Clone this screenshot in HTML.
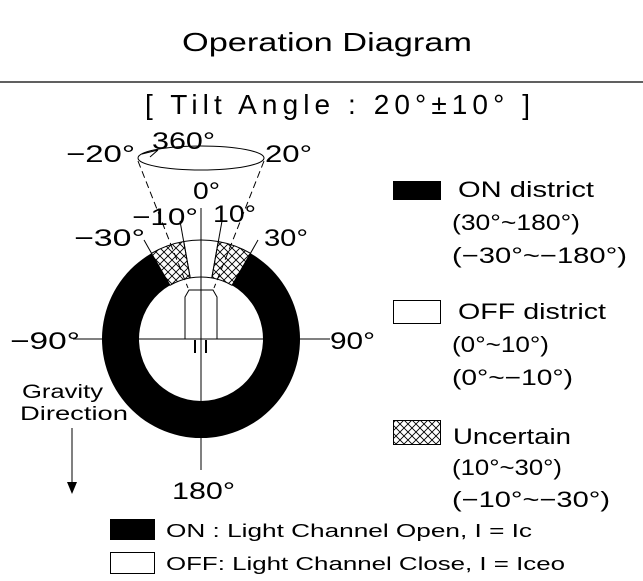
<!DOCTYPE html>
<html><head><meta charset="utf-8"><style>
html,body{margin:0;padding:0;background:#fff;width:643px;height:581px;overflow:hidden}
svg{display:block}
text{font-family:"Liberation Sans",sans-serif;fill:#000}
</style></head><body>
<svg width="643" height="581" viewBox="0 0 643 581" xmlns="http://www.w3.org/2000/svg">
<defs>
<pattern id="h" width="8" height="8" patternUnits="userSpaceOnUse">
<path d="M0,0 L8,8 M8,0 L0,8" stroke="#000" stroke-width="0.9"/>
</pattern>
</defs>
<text x="182" y="51" font-size="26" textLength="290" lengthAdjust="spacingAndGlyphs">Operation Diagram</text>
<line x1="0" y1="82" x2="643" y2="82" stroke="#000" stroke-width="1.2"/>
<text x="145" y="114" font-size="28" textLength="385" lengthAdjust="spacing">[ Tilt Angle : 20°±10° ]</text>

<path d="M250.5,253.3 A99,99 0 1,1 151.5,253.3 L170,285.3 A62,62 0 1,0 232,285.3 Z" fill="#000" fill-rule="evenodd"/>
<path d="M218.2,241.5 A99,99 0 0,1 250.5,253.3 L232,285.3 A62,62 0 0,0 211.8,277.9 Z" fill="url(#h)" stroke="#000" stroke-width="1"/>
<path d="M183.8,241.5 A99,99 0 0,0 151.5,253.3 L170,285.3 A62,62 0 0,1 190.2,277.9 Z" fill="url(#h)" stroke="#000" stroke-width="1"/>
<path d="M183.8,241.5 A99,99 0 0,1 218.2,241.5" fill="none" stroke="#000"/>
<path d="M190.2,277.9 A62,62 0 0,1 211.8,277.9" fill="none" stroke="#000"/>
<line x1="190.2" y1="277.9" x2="180" y2="221" stroke="#000"/>
<line x1="211.8" y1="277.9" x2="222" y2="221" stroke="#000"/>
<line x1="151.5" y1="253.3" x2="144" y2="240" stroke="#000"/>
<line x1="250.5" y1="253.3" x2="258" y2="240" stroke="#000"/>
<line x1="138" y1="161" x2="188" y2="288" stroke="#000" stroke-dasharray="7,4"/>
<line x1="264" y1="161" x2="214" y2="288" stroke="#000" stroke-dasharray="7,4"/>
<ellipse cx="201" cy="158" rx="63" ry="12" fill="none" stroke="#000"/>
<path d="M142,154 L158,150 M150,157 L158,150" stroke="#000" fill="none"/>
<line x1="201" y1="208" x2="201" y2="470" stroke="#000"/>
<line x1="73" y1="339" x2="330" y2="339" stroke="#000"/>
<path d="M185,339 V297 L189,290 H213 L217,297 V339" fill="none" stroke="#000"/>
<rect x="194" y="340" width="2" height="13" fill="#000"/>
<rect x="205" y="340" width="2" height="13" fill="#000"/>
<g font-size="24">
<text x="66" y="162" textLength="69" lengthAdjust="spacingAndGlyphs">−20°</text>
<text x="152" y="149" textLength="63" lengthAdjust="spacingAndGlyphs">360°</text>
<text x="265" y="162" textLength="47" lengthAdjust="spacingAndGlyphs">20°</text>
<text x="193" y="199" textLength="27" lengthAdjust="spacingAndGlyphs">0°</text>
<text x="132" y="225" textLength="66" lengthAdjust="spacingAndGlyphs">−10°</text>
<text x="213" y="222" textLength="43" lengthAdjust="spacingAndGlyphs">10°</text>
<text x="74" y="246" textLength="71" lengthAdjust="spacingAndGlyphs">−30°</text>
<text x="264" y="246" textLength="44" lengthAdjust="spacingAndGlyphs">30°</text>
<text x="10" y="349" textLength="70" lengthAdjust="spacingAndGlyphs">−90°</text>
<text x="330" y="349" textLength="45" lengthAdjust="spacingAndGlyphs">90°</text>
<text x="172" y="499" textLength="63" lengthAdjust="spacingAndGlyphs">180°</text>
</g>
<text x="22" y="398" font-size="19" textLength="81" lengthAdjust="spacingAndGlyphs">Gravity</text>
<text x="20" y="420" font-size="19" textLength="108" lengthAdjust="spacingAndGlyphs">Direction</text>
<line x1="72" y1="428" x2="72" y2="492" stroke="#000"/>
<path d="M67,482 L72,494 L77,482 Z" fill="#000"/>
<rect x="393" y="181" width="48" height="19" fill="#000"/>
<rect x="393.5" y="300.5" width="47" height="23" fill="#fff" stroke="#000"/>
<rect x="393.5" y="420.5" width="47" height="24" fill="url(#h)" stroke="#000"/>
<g font-size="22">
<text x="458" y="197" textLength="136" lengthAdjust="spacingAndGlyphs">ON district</text>
<text x="452" y="230" textLength="128" lengthAdjust="spacingAndGlyphs">(30°~180°)</text>
<text x="452" y="263" textLength="175" lengthAdjust="spacingAndGlyphs">(−30°~−180°)</text>
<text x="458" y="319" textLength="148" lengthAdjust="spacingAndGlyphs">OFF district</text>
<text x="452" y="352" textLength="97" lengthAdjust="spacingAndGlyphs">(0°~10°)</text>
<text x="452" y="385" textLength="121" lengthAdjust="spacingAndGlyphs">(0°~−10°)</text>
<text x="453" y="444" textLength="118" lengthAdjust="spacingAndGlyphs">Uncertain</text>
<text x="452" y="475" textLength="110" lengthAdjust="spacingAndGlyphs">(10°~30°)</text>
<text x="452" y="507" textLength="158" lengthAdjust="spacingAndGlyphs">(−10°~−30°)</text>
</g>
<rect x="110" y="519" width="45" height="21" fill="#000"/>
<rect x="110.5" y="552.5" width="44" height="21" fill="#fff" stroke="#000"/>
<g font-size="18">
<text x="166" y="537" textLength="366" lengthAdjust="spacingAndGlyphs">ON : Light Channel Open, I = Ic</text>
<text x="166" y="570" textLength="399" lengthAdjust="spacingAndGlyphs">OFF: Light Channel Close, I = Iceo</text>
</g>
</svg>
</body></html>
